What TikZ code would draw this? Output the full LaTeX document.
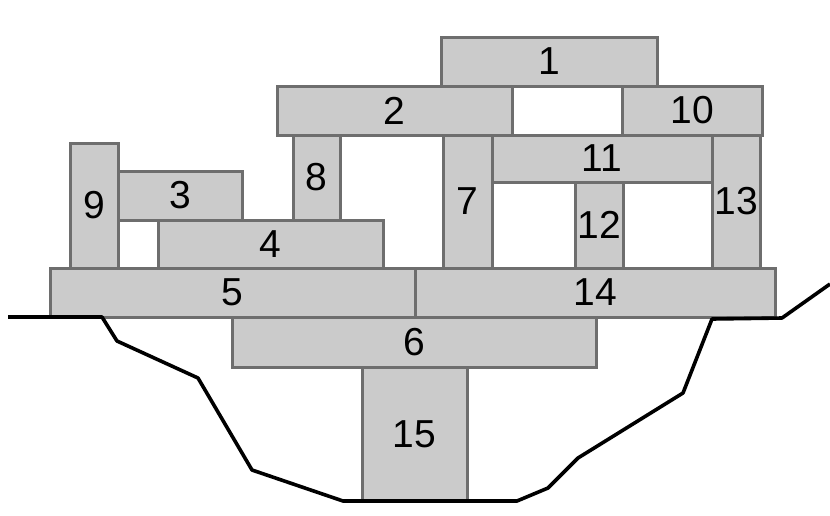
\documentclass[tikz,border=0pt]{standalone}
\usepackage{fontspec}
\setmainfont{Liberation Sans}
\usepackage{xcolor}
\usepackage{tikz}

\definecolor{blockfill}{HTML}{CBCBCB}
\definecolor{blockline}{HTML}{6E6E6E}

\begin{document}
\begin{tikzpicture}[
				x=1pt, y=-1pt,
				font=\fontsize{39}{42}\selectfont,
				block/.style={draw=blockline, fill=blockfill, line width=3pt, inner sep=0pt, align=center},
				ground/.style={line width=3.6pt, line join=round, black}
				]
				
				\useasboundingbox (0,0) rectangle (830,515);
				
				% Nodes (upper layers)
				\node[block, minimum width=216pt, minimum height=49pt] (b1) at (549,61.5) {1};
				\node[block, minimum width=235pt, minimum height=49pt] (b2) at (394.5,110.5) {2};
				\node[block, fill=white, minimum width=110pt, minimum height=49pt] (gap) at (567,110.5) {};
				\node[block, minimum width=140pt, minimum height=49pt] (b10) at (692,110.5) {10};
				\node[block, minimum width=47pt, minimum height=85pt] (b8) at (316.5,177.5) {8};
				\node[block, minimum width=48pt, minimum height=125pt] (b9) at (94,205.5) {9};
				\node[block, minimum width=124pt, minimum height=49pt] (b3) at (180,195.5) {3};
				\node[block, minimum width=225pt, minimum height=48pt] (b4) at (270.5,244) {4};
				\node[block, minimum width=49pt, minimum height=133pt] (b7) at (467.5,201.5) {7};
				\node[block, minimum width=220pt, minimum height=47pt] (b11) at (602,158.5) {11};
				\node[block, minimum width=48pt, minimum height=86pt] (b12) at (599,225) {12};
				\node[block, minimum width=48pt, minimum height=133pt] (b13) at (736,201.5) {13};
				
				% Nodes (base)
				\node[block, minimum width=365pt, minimum height=49pt] (b5) at (232.5,292.5) {5};
				\node[block, minimum width=360pt, minimum height=49pt] (b14) at (595,292.5) {14};
				\node[block, minimum width=364pt, minimum height=50pt] (b6) at (414,342) {6};
				\node[block, minimum width=105pt, minimum height=134pt] (b15) at (414.5,434) {15};
				
				% Ground line
				\draw[ground] (8,317) -- (102,317) -- (117,341) -- (198,378) -- (252,470) -- (343,501)
					-- (517,501) -- (548,488) -- (578,458) -- (683,393) -- (712,319) -- (782,318) -- (830,284);
				
			\end{tikzpicture}
\end{document}
